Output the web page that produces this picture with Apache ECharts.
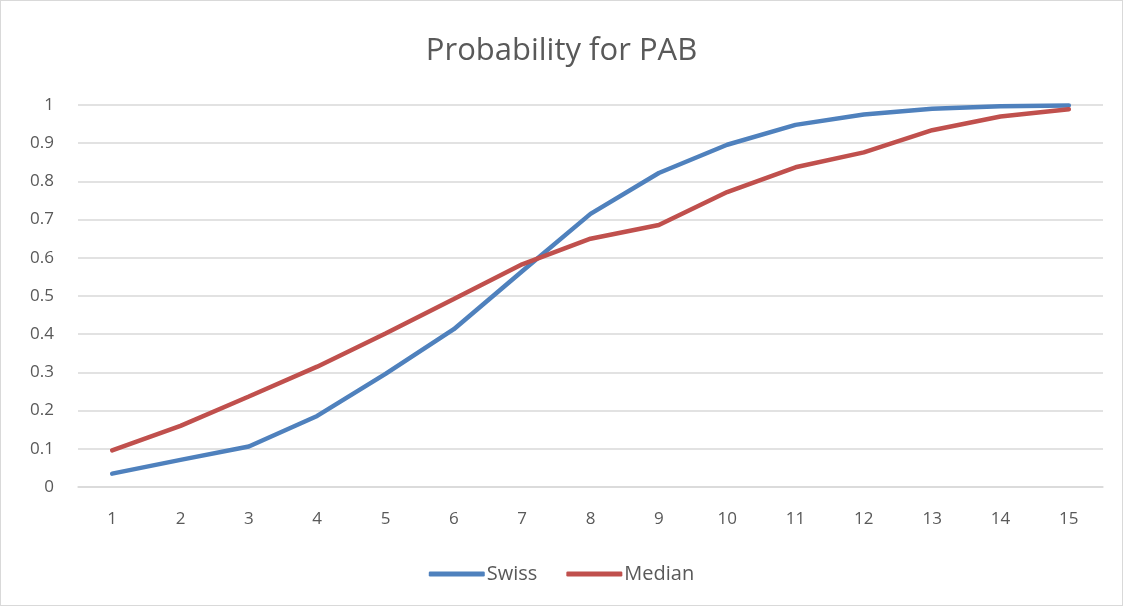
<!DOCTYPE html>
<html>
<head>
<meta charset="utf-8">
<script src="https://cdn.jsdelivr.net/npm/echarts@6/dist/echarts.min.js"></script>
<style>
  html, body { margin: 0; padding: 0; background: #fff; }
  #chart { width: 1123px; height: 606px; box-sizing: border-box; border: 1px solid #d9d9d9; }
</style>
</head>
<body>
<div id="chart"></div>
<script>
// x categories
var categories = ['1','2','3','4','5','6','7','8','9','10','11','12','13','14','15'];
// series values
var swiss  = [0.035, 0.071, 0.106, 0.186, 0.296, 0.413, 0.565, 0.715, 0.822, 0.896, 0.948, 0.975, 0.990, 0.997, 0.999];
var median = [0.096, 0.160, 0.237, 0.315, 0.402, 0.492, 0.583, 0.650, 0.686, 0.772, 0.837, 0.876, 0.934, 0.970, 0.989];

var myChart = echarts.init(document.getElementById('chart'));
var fontFam = '"Open Sans", "Noto Sans", sans-serif';

var option = {
    animation: false,
    title: {
        text: 'Probability for PAB',
        left: 'center',
        top: 30,
        textStyle: { fontFamily: fontFam, fontSize: 31, fontWeight: 'normal', color: '#595959' }
    },
    legend: {
        bottom: 16,
        left: 'center',
        itemWidth: 56,
        itemHeight: 5,
        itemGap: 29,
        icon: 'roundRect',
        textStyle: { fontFamily: fontFam, fontSize: 20, color: '#595959', padding: [0, 0, 0, -3] },
        data: ['Swiss', 'Median']
    },
    grid: { left: 77, right: 19, top: 104, bottom: 118, containLabel: false },
    xAxis: {
        type: 'category',
        data: categories,
        boundaryGap: true,
        axisLine: { lineStyle: { color: '#d9d9d9', width: 1.5 } },
        axisTick: { show: false },
        axisLabel: { fontFamily: fontFam, fontSize: 17, color: '#595959', margin: 24 }
    },
    yAxis: {
        type: 'value',
        min: 0,
        max: 1,
        interval: 0.1,
        axisLine: { show: false },
        axisTick: { show: false },
        splitLine: { lineStyle: { color: '#d9d9d9', width: 1.5 } },
        axisLabel: { fontFamily: fontFam, fontSize: 17, color: '#595959', margin: 24,
            formatter: function (v) { return String(Math.round(v * 10) / 10); } }
    },
    series: [
        {
            name: 'Swiss',
            type: 'line',
            data: swiss,
            showSymbol: false,
            symbol: 'none',
            lineStyle: { color: '#4F81BD', width: 4.5, cap: 'round' },
            itemStyle: { color: '#4F81BD' }
        },
        {
            name: 'Median',
            type: 'line',
            data: median,
            showSymbol: false,
            symbol: 'none',
            lineStyle: { color: '#C0504D', width: 4.5, cap: 'round' },
            itemStyle: { color: '#C0504D' }
        }
    ]
};

myChart.setOption(option);
</script>
</body>
</html>
